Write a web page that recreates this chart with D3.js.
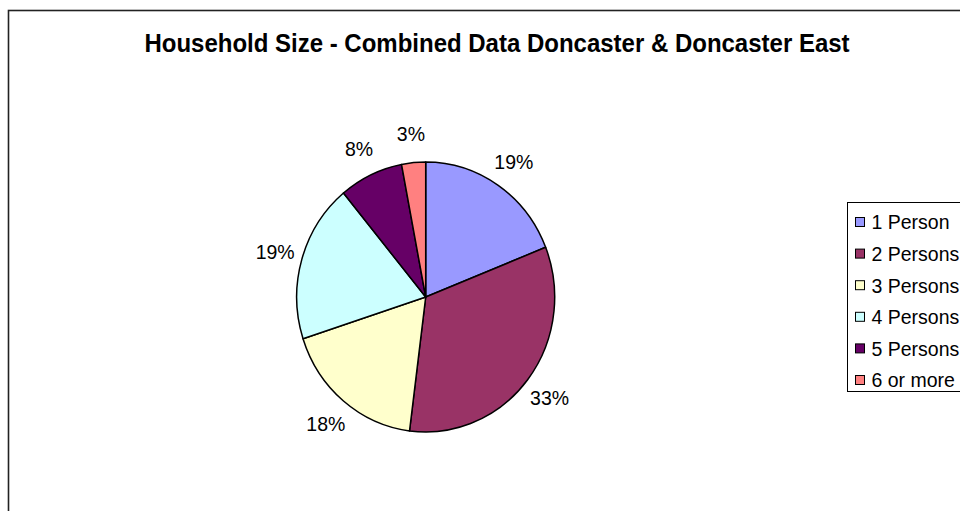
<!DOCTYPE html>
<html>
<head>
<meta charset="utf-8">
<script src="https://cdn.jsdelivr.net/npm/d3@7/dist/d3.min.js"></script>
<style>
  html, body { margin: 0; padding: 0; background: #fff; }
  svg { display: block; font-family: "Liberation Sans", Arial, sans-serif; }
</style>
</head>
<body>
<svg id="chart" width="960" height="511"></svg>
<script>
// Household size shares (percent of households)
const categories = ["1 Person", "2 Persons", "3 Persons", "4 Persons", "5 Persons", "6 or more"];
const shares = [19, 33, 18, 19, 8, 3];
const colors = ["#9999FF", "#993366", "#FFFFCC", "#CCFFFF", "#660066", "#FF8080"];
const titleText = "Household Size - Combined Data Doncaster & Doncaster East";

const svg = d3.select("#chart");
const sy = 1.05; // slight vertical stretch applied to text

// chart area frame (runs off the right and bottom edges)
svg.append("rect")
  .attr("x", 8.5).attr("y", 10.5)
  .attr("width", 1000).attr("height", 600)
  .attr("fill", "#fff")
  .attr("stroke", "#222").attr("stroke-width", 1.6);

// title
svg.append("text")
  .attr("transform", `translate(497,52) scale(1,${sy})`)
  .attr("text-anchor", "middle")
  .attr("font-weight", "bold")
  .attr("font-size", "24px")
  .attr("fill", "#000")
  .text(titleText);

// pie
const cx = 425.7, cy = 297, rx = 129, ry = 135;
const pie = d3.pie().sort(null).value(d => d.v);
const arcs = pie(categories.map((c, i) => ({ c, v: shares[i], col: colors[i] })));
const arc = d3.arc().innerRadius(0).outerRadius(rx);

const pieG = svg.append("g")
  .attr("transform", `translate(${cx},${cy}) scale(1,${ry / rx})`);

pieG.selectAll("path")
  .data(arcs)
  .join("path")
  .attr("d", arc)
  .attr("fill", d => d.data.col)
  .attr("stroke", "#000")
  .attr("stroke-width", 1.5)
  .attr("stroke-linejoin", "round")
  .attr("vector-effect", "non-scaling-stroke");

// percentage labels outside the slices
const k = 1.215;
const fmt = d3.format(".0%");
const mid = d => (d.startAngle + d.endAngle) / 2;
svg.append("g").selectAll("text")
  .data(arcs)
  .join("text")
  .attr("transform", d =>
    `translate(${cx + rx * k * Math.sin(mid(d))},${cy - ry * k * Math.cos(mid(d))}) scale(1,${sy})`)
  .attr("dy", "0.36em")
  .attr("text-anchor", "middle")
  .attr("font-size", "19.5px")
  .attr("fill", "#000")
  .text(d => fmt(d.data.v / 100));

// legend
const legendX = 847.5, legendTop = 202.5, legendH = 189;
const rowY = d3.scalePoint().domain(categories).range([222, 380]);

svg.append("rect")
  .attr("x", legendX).attr("y", legendTop)
  .attr("width", 200).attr("height", legendH)
  .attr("fill", "#fff")
  .attr("stroke", "#000").attr("stroke-width", 1);

const items = svg.append("g").selectAll("g")
  .data(categories)
  .join("g")
  .attr("transform", d => `translate(0,${rowY(d)})`);

items.append("rect")
  .attr("x", 855.5).attr("y", -4.5)
  .attr("width", 9).attr("height", 9)
  .attr("fill", (d, i) => colors[i])
  .attr("stroke", "#000").attr("stroke-width", 1);

items.append("text")
  .attr("transform", `translate(871.5,0) scale(1,${sy})`)
  .attr("dy", "0.36em")
  .attr("font-size", "19.5px")
  .attr("fill", "#000")
  .text(d => d);
</script>
</body>
</html>
